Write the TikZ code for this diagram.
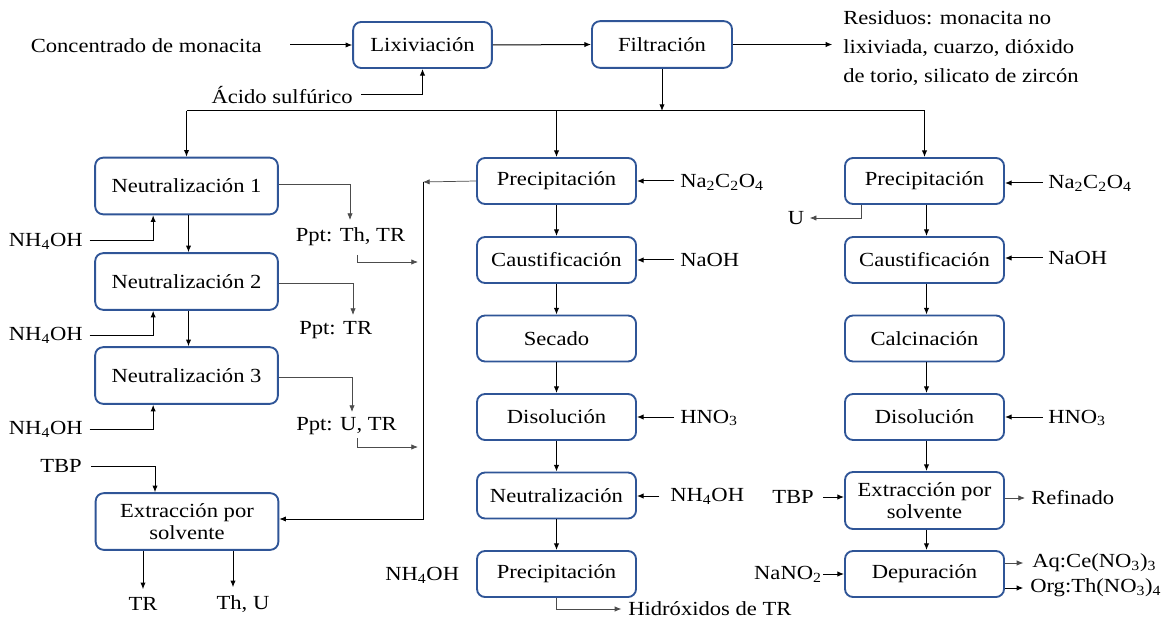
\documentclass[tikz,border=0pt]{standalone}
\usepackage{fontspec}
\setmainfont{Liberation Serif}[FakeStretch=1.13]
\usetikzlibrary{arrows.meta}
\definecolor{boxblue}{RGB}{47,85,151}
\begin{document}
\begin{tikzpicture}[x=0.75pt,y=-0.75pt,
  font=\fontsize{15}{18}\selectfont,
  box/.style={draw=boxblue,line width=1.4pt,rounded corners=6pt,inner sep=0pt,align=center},
  sbox/.style={box,minimum width=119.25pt,minimum height=34.5pt},
  nbox/.style={box,minimum width=137pt,minimum height=42.5pt},
  lbl/.style={inner sep=0pt},
  flow/.style={-{Latex[length=5pt,width=4pt]},line width=0.75pt},
  lite/.style={flow,line width=0.55pt,draw=black!70,-{Latex[length=5pt,width=4pt]}},
  plain/.style={line width=0.75pt}
]
\useasboundingbox (0,0) rectangle (1167,620);

% ---------- head of the process ----------
\node[box,minimum width=104pt,minimum height=34.5pt] (lix) at (422.5,45) {Lixiviación};
\node[box,minimum width=105pt,minimum height=35pt] (fil) at (662,44.5) {Filtración};
\node[lbl,anchor=east] (conc) at (262,46) {Concentrado de monacita};
\node[lbl,anchor=east] (acid) at (353,95) {Ácido sulfúrico};
\node[lbl,anchor=west,align=left,font=\fontsize{15}{22}\selectfont] (res) at (843,48)
  {Residuos: monacita no\\lixiviada, cuarzo, dióxido\\de torio, silicato de zircón};

\draw[flow] ([xshift=21pt]conc.east |- lix.west) -- (lix.west);
\draw[flow] ([xshift=6pt]acid.east) -| (lix.south);
\draw[flow] (lix.east) -- (fil.west);
\draw[flow] (fil.east) -- ([xshift=-8pt]res.west |- fil.east);

\coordinate (split) at (661,111);
\draw[flow] (fil.south) -- (fil.south |- split);

% ---------- left branch: neutralisations ----------
\node[nbox] (n1) at (186.5,186) {Neutralización 1};
\node[nbox] (n2) at (186.5,281.5) {Neutralización 2};
\node[nbox] (n3) at (186.5,375.5) {Neutralización 3};
\node[nbox] (e1) at (187,521.5) {Extracción por\\[-2pt]solvente};

\node[lbl,anchor=east] (nh1) at (83,241) {NH\textsubscript{4}OH};
\node[lbl,anchor=east] (nh2) at (83,335) {NH\textsubscript{4}OH};
\node[lbl,anchor=east] (nh3) at (83,429) {NH\textsubscript{4}OH};
\node[lbl,anchor=east] (tbp1) at (82,466) {TBP};
\node[lbl] (pp1) at (350.5,237) {Ppt: Th, TR};
\node[lbl,anchor=west] (pp2) at (299,330) {Ppt: TR};
\node[lbl] (pp3) at (346.5,426) {Ppt: U, TR};
\node[lbl] (tr1) at (143,604) {TR};
\node[lbl] (thu) at (243,604) {Th, U};

% ---------- middle branch ----------
\node[sbox] (m1) at (556.5,181) {Precipitación};
\node[sbox] (m2) at (556.5,260) {Caustificación};
\node[sbox] (m3) at (556.5,338.5) {Secado};
\node[sbox] (m4) at (556.5,417) {Disolución};
\node[sbox] (m5) at (556.5,495.5) {Neutralización};
\node[sbox] (m6) at (556.5,574) {Precipitación};

\node[lbl,anchor=west] (mna) at (680,182) {Na\textsubscript{2}C\textsubscript{2}O\textsubscript{4}};
\node[lbl,anchor=west] (mnaoh) at (680,260) {NaOH};
\node[lbl,anchor=west] (mhno) at (680,418) {HNO\textsubscript{3}};
\node[lbl,anchor=west] (mnh) at (670,496) {NH\textsubscript{4}OH};
\node[lbl,anchor=west] (mnh2) at (385,575) {NH\textsubscript{4}OH};
\node[lbl,anchor=west] (hid) at (628,609) {Hidróxidos de TR};

% ---------- right branch ----------
\node[sbox] (r1) at (924.5,181) {Precipitación};
\node[sbox] (r2) at (924.5,260) {Caustificación};
\node[sbox] (r3) at (924.5,338.5) {Calcinación};
\node[sbox] (r4) at (924.5,417) {Disolución};
\node[sbox,minimum height=42.75pt] (r5) at (924.5,500.5) {Extracción por\\[-2pt]solvente};
\node[sbox] (r6) at (924.5,574) {Depuración};

\node[lbl,anchor=west] (rna) at (1048,183) {Na\textsubscript{2}C\textsubscript{2}O\textsubscript{4}};
\node[lbl,anchor=west] (rnaoh) at (1048,258) {NaOH};
\node[lbl,anchor=west] (rhno) at (1048,418) {HNO\textsubscript{3}};
\node[lbl] (ru) at (796,218) {U};
\node[lbl,anchor=east] (tbp2) at (814,497) {TBP};
\node[lbl,anchor=west] (refi) at (1031,498) {Refinado};
\node[lbl,anchor=east] (nano) at (822,574) {NaNO\textsubscript{2}};
\node[lbl,anchor=west] (aq) at (1032,563) {Aq:Ce(NO\textsubscript{3})\textsubscript{3}};
\node[lbl,anchor=west] (org) at (1030,588) {Org:Th(NO\textsubscript{3})\textsubscript{4}};

% ---------- distribution line ----------
\draw[plain] (n1.north |- split) -- (r1.north |- split);
\draw[flow] (n1.north |- split) -- (n1.north);
\draw[flow] (m1.north |- split) -- (m1.north);
\draw[flow] (r1.north |- split) -- (r1.north);

% ---------- left branch connectors ----------
\draw[flow] ([xshift=1.5pt]n1.south) -- ([xshift=1.5pt]n2.north);
\draw[flow] ([xshift=1.5pt]n2.south) -- ([xshift=1.5pt]n3.north);
\draw[flow] ([xshift=5pt]nh1.east) -| ([xshift=-25pt]n1.south);
\draw[flow] ([xshift=5pt]nh2.east) -| ([xshift=-25pt]n2.south);
\draw[flow] ([xshift=5pt]nh3.east) -| ([xshift=-25pt]n3.south);

\coordinate (o1) at (350,220);
\coordinate (o2) at (353,315);
\coordinate (o3) at (352,412);
\draw[lite] ([yshift=1pt]n1.east) -| (o1);
\draw[lite] ([yshift=-1.5pt]n2.east) -| (o2);
\draw[lite] ([yshift=-1.5pt]n3.east) -| (o3);

\coordinate (ctop) at (423,182);
\coordinate (cbot) at (423,519);
\coordinate (j1) at (357,255);
\coordinate (j1e) at (418,262);
\coordinate (j3) at (357,438);
\coordinate (j3e) at (418,447);
\draw[lite] (j1) |- (j1e);
\draw[lite] (j3) |- (j3e);
\draw[lite] (m1.west) -- (ctop);
\draw[flow] (ctop) -- (cbot) -- (cbot -| e1.east);

\draw[flow] ([xshift=7pt]tbp1.east) -| ([xshift=-24pt]e1.north);
\draw[flow] (tr1.north |- e1.south) -- ([yshift=6pt]tr1.north);
\draw[flow] ([xshift=-7.5pt]thu.north |- e1.south) -- ([xshift=-7.5pt,yshift=6pt]thu.north);

% ---------- middle branch connectors ----------
\draw[flow] (m1) -- (m2);
\draw[flow] (m2) -- (m3);
\draw[flow] (m3) -- (m4);
\draw[flow] (m4) -- (m5);
\draw[flow] (m5) -- (m6);
\draw[flow] ([xshift=-4.5pt]mna.west |- m1.east) -- (m1.east);
\draw[flow] ([xshift=-4.5pt]mnaoh.west) -- (mnaoh.west -| m2.east);
\draw[flow] ([xshift=-4.5pt]mhno.west |- m4.east) -- (m4.east);
\draw[flow] ([xshift=-8pt]mnh.west) -- (mnh.west -| m5.east);
\draw[lite] (m6.south) |- ([xshift=-5pt]hid.west);

% ---------- right branch connectors ----------
\draw[flow] ([xshift=1.5pt]r1.south) -- ([xshift=1.5pt]r2.north);
\draw[flow] ([xshift=1.5pt]r2.south) -- ([xshift=1.5pt]r3.north);
\draw[flow] ([xshift=1.5pt]r3.south) -- ([xshift=1.5pt]r4.north);
\draw[flow] ([xshift=1.5pt]r4.south) -- ([xshift=1.5pt]r5.north);
\draw[flow] ([xshift=1.5pt]r5.south) -- ([xshift=1.5pt]r6.north);
\draw[flow] ([xshift=-4pt]rna.west) -- (rna.west -| r1.east);
\draw[flow] ([xshift=-4pt]rnaoh.west) -- (rnaoh.west -| r2.east);
\draw[flow] ([xshift=-4pt]rhno.west |- r4.east) -- (r4.east);
\draw[lite] ([xshift=-47.6pt]r1.south) |- ([xshift=4pt]ru.east);
\draw[flow] ([xshift=7pt]tbp2.east) -- (tbp2.east -| r5.west);
\draw[lite] (refi.west -| r5.east) -- ([xshift=-4.5pt]refi.west);
\draw[flow] ([xshift=1pt]nano.east) -- (nano.east -| r6.west);
\draw[lite] (aq.west -| r6.east) -- ([xshift=-6.5pt]aq.west);
\draw[flow] (org.west -| r6.east) -- ([xshift=-5pt]org.west);
\end{tikzpicture}
\end{document}
